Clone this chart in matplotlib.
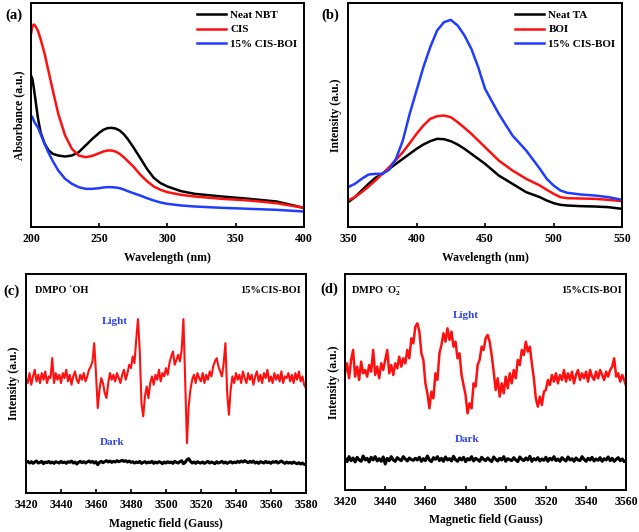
import matplotlib
matplotlib.use("Agg")
import matplotlib.pyplot as plt

plt.rcParams["font.family"] = ["Liberation Serif", "DejaVu Serif"]
plt.rcParams["font.weight"] = "bold"
plt.rcParams["mathtext.fontset"] = "custom"
plt.rcParams["mathtext.rm"] = "Liberation Serif:bold"
plt.rcParams["mathtext.it"] = "Liberation Serif:bold"
plt.rcParams["mathtext.bf"] = "Liberation Serif:bold"

# ---- (a) UV-vis absorbance ----
wl_a = [200, 201, 202, 203, 205, 207, 210, 213, 216, 220, 225, 230, 235, 240, 245, 250, 253,
        256, 259, 262, 265, 268, 271, 275, 280, 285, 290, 295, 300, 310, 320, 340, 360, 380, 400]
abs_nbt = [4.55, 4.45, 4.2, 3.9, 3.3, 2.85, 2.5, 2.3, 2.2, 2.15, 2.12, 2.15, 2.25, 2.45, 2.65, 2.83, 2.92,
           2.97, 2.98, 2.96, 2.9, 2.79, 2.64, 2.4, 2.08, 1.75, 1.48, 1.32, 1.22, 1.08, 1.0, 0.92, 0.85, 0.77, 0.58]
abs_cis = [5.8, 6.02, 6.08, 6.05, 5.9, 5.65, 5.2, 4.65, 4.1, 3.4, 2.75, 2.35, 2.15, 2.1, 2.14, 2.22, 2.27,
           2.3, 2.3, 2.27, 2.2, 2.1, 1.98, 1.82, 1.58, 1.38, 1.22, 1.12, 1.05, 0.97, 0.92, 0.85, 0.8, 0.72, 0.58]
abs_boi = [3.35, 3.3, 3.2, 3.12, 3.0, 2.8, 2.5, 2.22, 1.98, 1.7, 1.45, 1.3, 1.2, 1.15, 1.15, 1.17, 1.19,
           1.2, 1.2, 1.19, 1.17, 1.13, 1.08, 1.02, 0.95, 0.87, 0.8, 0.74, 0.7, 0.65, 0.62, 0.58, 0.55, 0.52, 0.47]

# ---- (b) PL of TA ----
wl_b = [350, 355, 360, 365, 370, 375, 380, 385, 390, 395, 400, 405, 410, 415, 420, 425,
        430, 435, 440, 445, 450, 460, 470, 480, 490, 495, 500, 505, 510, 520, 530, 540, 550]
pl_ta = [0.75, 0.9, 1.1, 1.3, 1.48, 1.6, 1.75, 1.9, 2.05, 2.2, 2.35, 2.48, 2.58, 2.65, 2.64, 2.58,
         2.48, 2.35, 2.2, 2.05, 1.9, 1.55, 1.3, 1.05, 0.9, 0.8, 0.72, 0.67, 0.65, 0.63, 0.62, 0.6, 0.55]
pl_boi = [0.8, 0.9, 1.05, 1.22, 1.4, 1.6, 1.8, 2.02, 2.25, 2.52, 2.8, 3.05, 3.25, 3.33, 3.35, 3.3,
          3.15, 2.98, 2.8, 2.6, 2.4, 2.0, 1.7, 1.45, 1.25, 1.12, 1.0, 0.9, 0.87, 0.86, 0.85, 0.82, 0.78]
pl_cisboi = [1.2, 1.3, 1.45, 1.58, 1.6, 1.6, 1.72, 2.05, 2.6, 3.4, 4.1, 4.8, 5.4, 5.9, 6.15, 6.22,
             6.05, 5.75, 5.35, 4.8, 4.15, 3.4, 2.75, 2.3, 1.75, 1.45, 1.25, 1.1, 1.03, 0.98, 0.95, 0.9, 0.82]

# ---- (c) DMPO-OH EPR ----
field_c = list(range(3420, 3581))
light_c = [3.45, 3.3, 3.6, 3.25, 3.5, 3.7, 3.35, 3.55, 3.3, 3.6, 3.4,
           3.65, 3.3, 3.5, 3.45, 4.05, 3.3, 3.6, 3.4, 3.55, 3.3,
           3.6, 3.45, 3.7, 3.35, 3.55, 3.25, 3.5, 3.65, 3.4, 3.3,
           3.55, 3.4, 3.6, 3.35, 3.5, 3.7, 3.8, 3.95, 4.5, 3.6,
           2.55, 3.1, 3.45, 3.3, 3.0, 2.85, 3.3, 3.6, 3.4, 3.55,
           3.35, 3.6, 3.45, 3.3, 3.55, 3.7, 3.4, 3.6, 3.85, 3.75,
           4.1, 3.9, 4.6, 5.22, 4.3, 2.7, 2.3, 2.9, 3.2, 2.85,
           3.3, 3.5, 3.25, 3.55, 3.4, 3.7, 3.35, 3.6, 3.5, 3.75,
           3.55, 3.9, 4.1, 4.25, 3.85, 4.0, 4.15, 3.95, 4.3, 5.22,
           3.4, 1.5, 2.6, 3.1, 3.4, 3.55, 3.3, 3.6, 3.45, 3.35,
           3.6, 3.3, 3.55, 3.4, 3.65, 3.5, 3.8, 3.95, 4.05, 3.8,
           3.65, 3.5, 3.9, 4.5, 3.0, 2.35, 3.1, 3.5, 3.3, 3.6,
           3.4, 3.55, 3.3, 3.65, 3.45, 3.3, 3.6, 3.4, 3.55, 3.25,
           3.5, 3.65, 3.35, 3.55, 3.3, 3.6, 3.45, 3.7, 3.35, 3.5,
           3.3, 3.6, 3.4, 3.55, 3.35, 3.65, 3.3, 3.5, 3.45, 3.6,
           3.35, 3.55, 3.3, 3.6, 3.4, 3.65, 3.35, 3.5, 3.25, 3.15]
dark_c = [0.92, 0.95, 0.9, 0.94, 0.89, 0.93, 0.96, 0.9, 0.92, 0.95, 0.88,
          0.93, 0.91, 0.95, 0.9, 0.93, 0.89, 0.94, 0.92, 0.9, 0.95,
          0.91, 0.93, 0.89, 0.94, 0.92, 0.96, 0.9, 0.93, 0.87, 0.92,
          0.95, 0.91, 0.94, 0.9, 0.93, 0.96, 0.92, 0.95, 0.9, 0.94,
          0.85, 0.92, 0.95, 0.91, 0.94, 0.97, 0.93, 0.96, 0.92, 0.95,
          0.93, 0.97, 0.94, 0.96, 0.98, 0.95, 0.97, 0.93, 0.96, 0.92,
          0.94, 0.9, 0.93, 0.91, 0.95, 0.89, 0.92, 0.94, 0.9, 0.93,
          0.91, 0.95, 0.89, 0.93, 0.9, 0.94, 0.92, 0.88, 0.93, 0.9,
          0.94, 0.91, 0.93, 0.89, 0.95, 0.92, 0.9, 0.94, 0.97, 0.88,
          0.92, 1.0, 1.03, 0.95, 0.9, 0.93, 0.89, 0.94, 0.91, 0.9,
          0.93, 0.89, 0.92, 0.95, 0.9, 0.93, 0.91, 0.88, 0.94, 0.9,
          0.92, 0.95, 0.9, 0.93, 0.89, 0.92, 0.94, 0.9, 0.93, 0.91,
          0.95, 0.92, 0.96, 0.93, 0.97, 0.94, 0.91, 0.95, 0.92, 0.96,
          0.9, 0.93, 0.89, 0.94, 0.92, 0.9, 0.95, 0.91, 0.93, 0.89,
          0.94, 0.92, 0.95, 0.9, 0.93, 0.96, 0.92, 0.89, 0.93, 0.9,
          0.92, 0.89, 0.93, 0.9, 0.88, 0.91, 0.87, 0.9, 0.86, 0.85]

# ---- (d) DMPO-O2- EPR ----
field_d = list(range(3420, 3561))
light_d = [3.5, 3.8, 3.35, 3.9, 4.2, 3.4, 3.7, 3.3, 3.85, 3.5,
           3.6, 3.4, 3.75, 3.55, 4.2, 3.45, 3.7, 3.35, 3.8, 3.6,
           3.9, 4.2, 3.5, 3.75, 3.45, 3.8, 3.65, 4.0, 3.7, 3.95,
           3.8, 4.2, 3.95, 4.55, 4.4, 4.9, 5.0, 4.75, 4.1, 3.9,
           3.2, 2.9, 2.45, 2.95, 2.75, 3.5, 3.3, 4.1, 4.35, 4.7,
           4.45, 4.85, 4.5, 4.75, 4.3, 4.45, 3.95, 4.1, 3.45, 3.15,
           2.85, 2.3, 2.6, 2.45, 3.2, 3.1, 3.75, 3.9, 4.3, 4.2,
           4.55, 4.65, 4.45, 4.05, 3.55, 3.0, 3.35, 2.8, 3.2, 2.9,
           3.4, 3.05, 3.5, 3.2, 3.6, 3.35, 3.9, 3.75, 4.2, 4.05,
           4.45, 4.15, 4.3, 3.8, 3.35, 2.75, 2.5, 2.8, 2.55, 2.95,
           3.0, 3.3, 3.15, 3.45, 3.25, 3.5, 3.2, 3.45, 3.3, 3.6,
           3.25, 3.5, 3.3, 3.55, 3.2, 3.45, 3.6, 3.3, 3.5, 3.35,
           3.55, 3.25, 3.6, 3.4, 3.3, 3.55, 3.35, 3.6, 3.45, 3.3,
           3.55, 3.4, 3.6, 3.7, 3.95, 3.4, 3.5, 3.25, 3.45, 3.3,
           3.1]
dark_d = [0.95, 0.85, 1.0, 0.88, 0.96, 0.84, 0.98, 0.9, 0.86, 1.02,
          0.9, 0.95, 0.84, 0.98, 0.9, 1.0, 0.87, 0.94, 0.86, 0.99,
          0.78, 0.95, 0.88, 1.0, 0.9, 0.86, 0.97, 0.92, 0.88, 1.0,
          0.93, 0.87, 0.96, 0.91, 0.89, 0.95, 0.9, 0.98, 0.86, 0.94,
          0.88, 1.02, 0.9, 0.85, 0.97, 0.92, 1.0, 0.88, 0.95, 0.86,
          0.99, 0.9, 0.94, 0.87, 1.01, 0.91, 0.86, 0.96, 0.9, 0.98,
          0.85, 0.94, 0.9, 1.0, 0.87, 0.95, 0.91, 0.86, 0.98, 0.92,
          0.88, 0.96, 0.9, 0.85, 0.99, 0.92, 0.87, 0.95, 0.9, 1.0,
          0.86, 0.94, 0.91, 0.88, 0.97, 0.9, 0.85, 0.99, 0.92, 0.88,
          0.96, 0.9, 1.01, 0.86, 0.94, 0.9, 0.97, 0.87, 0.93, 0.89,
          0.98, 0.86, 0.95, 0.9, 1.0, 0.88, 0.93, 0.86, 0.97, 0.91,
          0.87, 0.99, 0.9, 0.94, 0.86, 0.96, 0.9, 0.88, 1.0, 0.92,
          0.86, 0.95, 0.9, 0.98, 0.87, 0.93, 0.89, 0.97, 0.86, 0.94,
          0.9, 0.99, 0.88, 0.95, 0.86, 0.92, 0.97, 0.88, 0.93, 0.85,
          0.88]

RED = "#ff1010"
BLUE = "#1f3cff"
TXT_BLUE = "#3045e8"

fig = plt.figure(figsize=(6.39, 5.32), dpi=100)
ax_a = fig.add_axes([0.0485, 0.573, 0.427, 0.421])
ax_b = fig.add_axes([0.5446, 0.573, 0.429, 0.421])
ax_c = fig.add_axes([0.0407, 0.0733, 0.438, 0.412])
ax_d = fig.add_axes([0.540, 0.079, 0.440, 0.406])


def style(ax, xlim, ylim, ticks, xlabel, ylabel):
    ax.set_xlim(*xlim)
    ax.set_ylim(*ylim)
    ax.set_xticks(ticks)
    ax.set_yticks([])
    ax.tick_params(axis="x", direction="in", length=3, width=1.2, labelsize=8.5, pad=4)
    for lab in ax.get_xticklabels():
        lab.set_fontweight("bold")
    for s in ax.spines.values():
        s.set_linewidth(1.4)
    ax.set_xlabel(xlabel, fontsize=8.5, fontweight="bold", labelpad=5)
    ax.set_ylabel(ylabel, fontsize=8.5, fontweight="bold", labelpad=4)


def legend(ax):
    leg = ax.legend(loc="upper right", frameon=False, fontsize=8, handlelength=2.6,
                    borderaxespad=0.2, labelspacing=0.45, handletextpad=0.4)
    for t in leg.get_texts():
        t.set_fontweight("bold")


# (a)
ax_a.plot(wl_a, abs_nbt, color="black", lw=1.8, label="Neat NBT")
ax_a.plot(wl_a, abs_cis, color=RED, lw=1.8, label="CIS")
ax_a.plot(wl_a, abs_boi, color=BLUE, lw=1.8, label="15% CIS-BOI")
style(ax_a, (200, 400), (0, 6.72), [200, 250, 300, 350, 400], "Wavelength (nm)", "Absorbance (a.u.)")
legend(ax_a)
fig.text(0.008, 0.972, "(a)", fontsize=10.5, fontweight="bold", va="center")

# (b)
ax_b.plot(wl_b, pl_ta, color="black", lw=1.8, label="Neat TA")
ax_b.plot(wl_b, pl_boi, color=RED, lw=1.8, label="BOI")
ax_b.plot(wl_b, pl_cisboi, color=BLUE, lw=1.8, label="15% CIS-BOI")
style(ax_b, (350, 550), (0, 6.72), [350, 400, 450, 500, 550], "Wavelength (nm)", "Intensity (a.u.)")
legend(ax_b)
fig.text(0.503, 0.972, "(b)", fontsize=10.5, fontweight="bold", va="center")

# (c)
ax_c.plot(field_c, light_c, color=RED, lw=1.5)
ax_c.plot(field_c, dark_c, color="black", lw=2.2)
style(ax_c, (3420, 3580), (0, 6.58), list(range(3420, 3581, 20)), "Magnetic field (Gauss)", "Intensity (a.u.)")
ax_c.text(3425, 6.07, "DMPO \u02d9OH", fontsize=7.5, fontweight="bold", va="center")
ax_c.text(3577, 6.07, "15%CIS-BOI", fontsize=7.5, fontweight="bold", va="center", ha="right")
ax_c.text(3478, 5.14, "Light", fontsize=8, fontweight="bold", color=TXT_BLUE, ha="right", va="center")
ax_c.text(3476, 1.53, "Dark", fontsize=8, fontweight="bold", color=TXT_BLUE, ha="right", va="center")
fig.text(0.006, 0.453, "(c)", fontsize=10.5, fontweight="bold", va="center")

# (d)
ax_d.plot(field_d, light_d, color=RED, lw=1.8)
ax_d.plot(field_d, dark_d, color="black", lw=2.2)
style(ax_d, (3420, 3560), (0, 6.48), list(range(3420, 3561, 20)), "Magnetic field (Gauss)", "Intensity (a.u.)")
ax_d.text(3423, 5.97, r"DMPO $^{\bullet}$O$_2^{-}$", fontsize=7.5, fontweight="bold", va="center")
ax_d.text(3558, 5.97, "15%CIS-BOI", fontsize=7.5, fontweight="bold", va="center", ha="right")
ax_d.text(3480, 5.22, "Light", fontsize=8, fontweight="bold", color=TXT_BLUE, ha="center", va="center")
ax_d.text(3481, 1.5, "Dark", fontsize=8, fontweight="bold", color=TXT_BLUE, ha="center", va="center")
fig.text(0.502, 0.457, "(d)", fontsize=10.5, fontweight="bold", va="center")

fig.savefig("out.png", dpi=100)
